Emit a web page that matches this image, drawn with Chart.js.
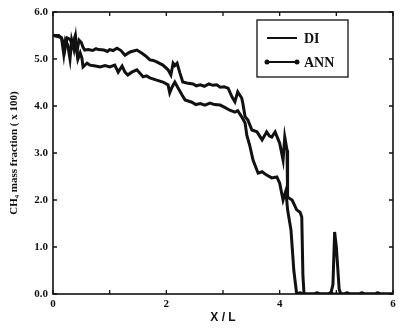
<!DOCTYPE html>
<html>
<head>
<meta charset="utf-8">
<script src="https://cdn.jsdelivr.net/npm/chart.js@4"></script>
<style>
  html, body { margin: 0; padding: 0; background: #fff; }
  #wrap { width: 400px; height: 331px; }
</style>
</head>
<body>
<div id="wrap"><canvas id="graphCanvas" width="400" height="331"></canvas></div>
<script>
// DI profile along the duct (x/L, CH4 mass fraction x 100)
const diX = [0, 0.08, 0.15, 0.18, 0.21, 0.25, 0.3, 0.34, 0.38, 0.42, 0.46, 0.5, 0.53, 0.56, 0.62, 0.7, 0.76, 0.8, 0.9,
  0.96, 1.0, 1.06, 1.13, 1.2, 1.27, 1.36, 1.48, 1.57, 1.64, 1.71, 1.77, 1.83, 1.94, 2.03, 2.08, 2.12, 2.15, 2.19,
  2.24, 2.29, 2.36, 2.47, 2.53, 2.6, 2.67, 2.75, 2.82, 2.89, 2.95, 3.02, 3.09, 3.16, 3.21, 3.26, 3.33, 3.35, 3.39,
  3.44, 3.51, 3.6, 3.69, 3.74, 3.77, 3.82, 3.86, 3.92, 4.0, 4.06, 4.09, 4.13, 4.14, 4.22, 4.3, 4.36, 4.39, 4.41,
  4.43, 5.0, 6.0];
const diY = [5.5, 5.48, 5.45, 5.36, 5.2, 5.45, 5.42, 5.3, 5.45, 5.15, 5.4, 5.35, 5.25, 5.19, 5.2, 5.18, 5.22, 5.2, 5.19,
  5.16, 5.2, 5.18, 5.23, 5.18, 5.08, 5.15, 5.19, 5.12, 5.06, 4.98, 4.97, 4.94, 4.87, 4.77, 4.66, 4.91, 4.86, 4.91,
  4.7, 4.51, 4.49, 4.47, 4.43, 4.45, 4.42, 4.47, 4.44, 4.45, 4.4, 4.41, 4.38, 4.19, 4.09, 4.3, 4.17, 4.06, 3.77,
  3.7, 3.49, 3.45, 3.28, 3.38, 3.45, 3.36, 3.34, 3.45, 3.21, 2.85, 3.34, 3.06, 2.06, 2.0, 1.79, 1.74, 1.64, 0.4,
  0, 0, 0];

// ANN prediction
const annX = [0, 0.1, 0.15, 0.19, 0.22, 0.26, 0.3, 0.33, 0.37, 0.4, 0.44, 0.48, 0.51, 0.53, 0.6, 0.65, 0.75, 0.83, 0.92,
  1.0, 1.09, 1.15, 1.22, 1.27, 1.32, 1.39, 1.48, 1.59, 1.65, 1.71, 1.83, 1.94, 2.03, 2.06, 2.1, 2.15, 2.2, 2.28,
  2.33, 2.45, 2.52, 2.6, 2.68, 2.77, 2.85, 2.95, 3.03, 3.12, 3.21, 3.26, 3.33, 3.39, 3.42, 3.47, 3.53, 3.62, 3.69,
  3.77, 3.86, 3.95, 4.0, 4.06, 4.11, 4.14, 4.2, 4.25, 4.3, 4.36, 4.66, 4.9, 4.94, 4.97, 5.0, 5.05, 5.08, 5.19,
  5.45, 5.73, 6.0];
const annY = [5.5, 5.5, 5.45, 5.1, 5.4, 5.3, 5.0, 5.4, 5.2, 5.45, 5.0, 5.13, 5.02, 4.83, 4.91, 4.87, 4.85, 4.83, 4.86,
  4.83, 4.87, 4.72, 4.85, 4.72, 4.66, 4.72, 4.77, 4.62, 4.64, 4.6, 4.55, 4.51, 4.45, 4.28, 4.4, 4.51, 4.4, 4.23,
  4.13, 4.08, 4.03, 4.05, 4.02, 4.06, 4.03, 4.02, 3.97, 3.91, 3.87, 3.9, 3.77, 3.64, 3.38, 3.17, 2.85, 2.57, 2.6,
  2.53, 2.47, 2.49, 2.36, 2.0, 2.2, 1.79, 1.36, 0.5, 0, 0, 0, 0, 0.2, 1.32, 1.0, 0.1, 0, 0,
  0, 0, 0];
// x positions where ANN symbols are drawn
const annMarkX = [4.36, 4.66, 4.9, 5.19, 5.45, 5.73];

const xTicks = [0, 1, 2, 3, 4, 5, 6];
const yTicks = [0, 1, 2, 3, 4, 5, 6];

const toPoints = (xs, ys) => xs.map((x, i) => ({ x: x, y: ys[i] }));

const serif = 'Liberation Serif';

// frame, inward ticks and the boxed legend
const framePlugin = {
  id: 'frame',
  afterDraw(chart) {
    const { ctx, chartArea: a, scales } = chart;
    ctx.save();
    ctx.strokeStyle = '#111';
    ctx.lineWidth = 1.6;
    ctx.strokeRect(a.left, a.top, a.right - a.left, a.bottom - a.top);
    ctx.lineWidth = 1.3;
    ctx.beginPath();
    yTicks.forEach(v => {
      const py = scales.y.getPixelForValue(v);
      ctx.moveTo(a.left, py); ctx.lineTo(a.left + 4, py);
      ctx.moveTo(a.right, py); ctx.lineTo(a.right - 4, py);
    });
    xTicks.forEach(v => {
      const px = scales.x.getPixelForValue(v);
      ctx.moveTo(px, a.bottom); ctx.lineTo(px, a.bottom - 4);
      ctx.moveTo(px, a.top); ctx.lineTo(px, a.top + 4);
    });
    ctx.stroke();

    // legend
    const bx = a.right - 136, by = a.top + 8, bw = 91, bh = 57;
    ctx.lineWidth = 1.3;
    ctx.strokeRect(bx, by, bw, bh);
    ctx.font = 'bold 14px "' + serif + '"';
    ctx.fillStyle = '#111';
    ctx.textBaseline = 'middle';
    chart.data.datasets.forEach((ds, i) => {
      const ly = by + 18 + i * 24;
      ctx.lineWidth = 2;
      ctx.beginPath();
      ctx.moveTo(bx + 10, ly); ctx.lineTo(bx + 40, ly);
      ctx.stroke();
      if (ds.label === 'ANN') {
        [bx + 10, bx + 40].forEach(px => {
          ctx.beginPath(); ctx.arc(px, ly, 2.5, 0, Math.PI * 2); ctx.fill();
        });
      }
      ctx.fillText(ds.label, bx + 47, ly + 1);
    });
    ctx.restore();
  }
};

const ctx = document.getElementById('graphCanvas').getContext('2d');
new Chart(ctx, {
  type: 'line',
  data: {
    datasets: [
      {
        label: 'DI',
        data: toPoints(diX, diY),
        borderColor: '#111',
        borderWidth: 3,
        pointRadius: 0,
        tension: 0
      },
      {
        label: 'ANN',
        data: toPoints(annX, annY),
        borderColor: '#111',
        backgroundColor: '#111',
        borderWidth: 3,
        pointRadius: c => annMarkX.some(m => Math.abs(m - c.raw.x) < 1e-6) ? 2.8 : 0,
        pointBorderWidth: 0,
        tension: 0
      }
    ]
  },
  options: {
    responsive: false,
    animation: false,
    layout: { padding: { left: 0, right: 7, top: 12, bottom: 0 } },
    plugins: { legend: { display: false }, tooltip: { enabled: false } },
    scales: {
      x: {
        type: 'linear',
        min: 0, max: 6,
        afterFit: s => { s.height = 37; },
        afterBuildTicks: s => { s.ticks = xTicks.map(v => ({ value: v })); },
        grid: { display: false, drawTicks: false },
        border: { display: false },
        ticks: {
          color: '#111',
          padding: 4,
          maxRotation: 0,
          font: { family: serif, size: 11, weight: 'bold' },
          callback: v => (v % 2 === 0 ? String(v) : '')
        },
        title: {
          display: true,
          text: 'X / L',
          color: '#111',
          padding: { top: 0, bottom: 6 },
          font: { family: 'Liberation Sans', size: 12, weight: 'bold' }
        }
      },
      y: {
        type: 'linear',
        min: 0, max: 6,
        afterFit: s => { s.width = 53; },
        afterBuildTicks: s => { s.ticks = yTicks.map(v => ({ value: v })); },
        grid: { display: false, drawTicks: false },
        border: { display: false },
        ticks: {
          color: '#111',
          padding: 5,
          font: { family: serif, size: 11, weight: 'bold' },
          callback: v => v.toFixed(1)
        },
        title: {
          display: true,
          text: 'CH₄ mass fraction ( x 100)',
          color: '#111',
          padding: { top: 8, bottom: 0 },
          font: { family: serif, size: 11, weight: 'bold' }
        }
      }
    }
  },
  plugins: [framePlugin]
});
</script>
</body>
</html>
